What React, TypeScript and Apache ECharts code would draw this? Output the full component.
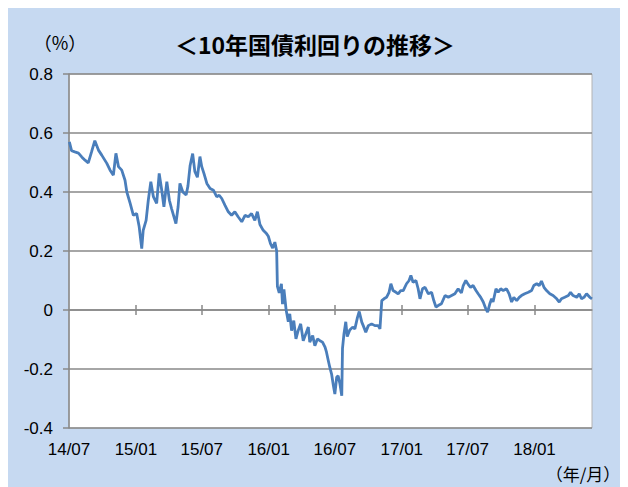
import React, { useEffect, useRef } from "react";
import * as echarts from "echarts";

// Days since 2014-07-01 and 10-year JGB yield (%)
const dayOffsets = [
  1, 7, 16, 26, 35, 44, 53, 62, 71, 81, 90, 104, 113, 122, 129, 136, 145, 154, 159, 168,
  177, 186, 193, 200, 204, 212, 218, 225, 232, 241, 248, 255, 261, 269, 276, 282, 294, 300, 305, 313,
  322, 327, 333, 340, 346, 353, 360, 365, 371, 379, 388, 397, 406, 413, 420, 429, 438, 447, 456, 465,
  475, 484, 493, 502, 511, 518, 525, 534, 543, 548, 554, 560, 566, 571, 573, 578, 584, 587, 591, 597,
  603, 607, 612, 618, 624, 630, 637, 644, 651, 658, 662, 670, 676, 683, 690, 697, 704, 708, 713, 717,
  722, 727, 731, 736, 740, 745, 750, 752, 756, 761, 765, 772, 780, 786, 793, 798, 805, 809, 816, 823,
  832, 841, 850, 855, 860, 866, 873, 880, 885, 891, 899, 905, 912, 919, 928, 935, 940, 946, 954, 960,
  965, 972, 979, 988, 997, 1003, 1009, 1015, 1024, 1034, 1043, 1052, 1061, 1070, 1079, 1084, 1091, 1098, 1104, 1111,
  1119, 1125, 1132, 1139, 1146, 1151, 1157, 1162, 1166, 1174, 1180, 1187, 1194, 1203, 1210, 1217, 1223, 1231, 1238, 1244,
  1253, 1263, 1272, 1278, 1286, 1293, 1299, 1306, 1313, 1322, 1331, 1341, 1348, 1354, 1363, 1373, 1379, 1386, 1396, 1403,
  1409, 1416, 1423, 1432, 1438,
];

const yields = [
  0.57, 0.54, 0.536, 0.532, 0.519, 0.508, 0.499, 0.536, 0.574, 0.542, 0.525, 0.497, 0.474, 0.457, 0.531, 0.486, 0.474, 0.44, 0.4, 0.362,
  0.321, 0.327, 0.282, 0.208, 0.27, 0.304, 0.372, 0.435, 0.384, 0.361, 0.463, 0.406, 0.35, 0.435, 0.372, 0.344, 0.293, 0.35, 0.429, 0.4,
  0.39, 0.42, 0.49, 0.53, 0.47, 0.45, 0.52, 0.486, 0.463, 0.429, 0.412, 0.406, 0.384, 0.389, 0.378, 0.355, 0.333, 0.321, 0.333, 0.316,
  0.299, 0.321, 0.316, 0.327, 0.304, 0.333, 0.29, 0.27, 0.259, 0.25, 0.225, 0.21, 0.23, 0.2, 0.08, 0.058, 0.089, 0.02, 0.07, 0.0,
  -0.04, -0.013, -0.07, -0.036, -0.098, -0.07, -0.047, -0.104, -0.081, -0.058, -0.109, -0.087, -0.121, -0.098, -0.104, -0.109, -0.126, -0.143, -0.172, -0.194,
  -0.217, -0.257, -0.285, -0.228, -0.223, -0.251, -0.291, -0.13, -0.081, -0.04, -0.09, -0.068, -0.058, -0.064, -0.026, -0.005, -0.041, -0.053, -0.075, -0.053,
  -0.047, -0.053, -0.053, -0.064, 0.032, 0.038, 0.043, 0.06, 0.089, 0.066, 0.06, 0.055, 0.066, 0.066, 0.089, 0.1, 0.117, 0.094, 0.1, 0.072,
  0.038, 0.072, 0.077, 0.055, 0.06, 0.032, 0.01, 0.015, 0.021, 0.049, 0.043, 0.049, 0.055, 0.072, 0.058, 0.083, 0.1, 0.086, 0.077, 0.083,
  0.066, 0.055, 0.043, 0.027, 0.004, -0.007, 0.021, 0.038, 0.027, 0.072, 0.06, 0.072, 0.066, 0.072, 0.055, 0.027, 0.043, 0.032, 0.043, 0.049,
  0.055, 0.06, 0.066, 0.083, 0.089, 0.083, 0.098, 0.077, 0.066, 0.055, 0.049, 0.038, 0.027, 0.038, 0.043, 0.049, 0.06, 0.049, 0.043, 0.055,
  0.038, 0.043, 0.055, 0.043, 0.038,
];

const xTickLabels = ["14/07", "15/01", "15/07", "16/01", "16/07", "17/01", "17/07", "18/01"];
const axisEndDay = 1438;

const DAY = 86400000;
const START = Date.UTC(2014, 6, 1);

function labelToDay(label: string): number {
  const [yy, mm] = label.split("/");
  return Math.round((Date.UTC(2000 + Number(yy), Number(mm) - 1, 1) - START) / DAY);
}

export default function App() {
  const ref = useRef<HTMLDivElement>(null);

  useEffect(() => {
    if (!ref.current) return;
    const chart = echarts.init(ref.current, null, { renderer: "svg" });
    const labelDays = xTickLabels.map(labelToDay);
    const tickDays = labelDays.slice(1);
    const data = dayOffsets.map((d, i) => [d, yields[i]]);
    const gray = "#898989";
    const fmt = (v: number) => {
      const idx = labelDays.indexOf(Math.round(v));
      return idx >= 0 ? xTickLabels[idx] : "";
    };
    const baseX = {
      type: "value",
      min: 0,
      max: axisEndDay,
      gridIndex: 0,
      splitLine: { show: false },
    };
    chart.setOption({
      animation: false,
      backgroundColor: "#c6d9f1",
      grid: {
        left: 61,
        top: 66,
        right: 36,
        bottom: 59,
        show: true,
        backgroundColor: "#ffffff",
        borderColor: "#b4b4b4",
        borderWidth: 1,
      },
      graphic: [
        {
          type: "text",
          x: 307,
          y: 36,
          style: {
            text: "＜10年国債利回りの推移＞",
            font: 'bold 23px "Noto Sans CJK JP"',
            fill: "#000",
            textAlign: "center",
            textVerticalAlign: "middle",
          },
        },
        {
          type: "text",
          x: 52,
          y: 34,
          style: {
            text: "（%）",
            font: '18px "Noto Sans CJK JP"',
            fill: "#000",
            textAlign: "center",
            textVerticalAlign: "middle",
          },
        },
        {
          type: "text",
          x: 575,
          y: 465,
          style: {
            text: "（年/月）",
            font: '17px "Noto Sans CJK JP"',
            fill: "#000",
            textAlign: "center",
            textVerticalAlign: "middle",
          },
        },
      ],
      xAxis: [
        {
          ...baseX,
          position: "bottom",
          axisLine: { show: false, onZero: false },
          axisTick: { show: false },
          axisLabel: {
            customValues: labelDays,
            formatter: fmt,
            fontFamily: '"Liberation Sans", Arial',
            fontSize: 17,
            color: "#000",
            margin: 13,
            hideOverlap: false,
          },
        },
        {
          ...baseX,
          axisLine: { show: true, onZero: true, onZeroAxisIndex: 0, lineStyle: { color: gray, width: 1.5 } },
          axisTick: { show: true, customValues: tickDays, length: 5, inside: false, lineStyle: { color: gray, width: 1.5 } },
          axisLabel: { show: false },
        },
        {
          ...baseX,
          axisLine: { show: false, onZero: true, onZeroAxisIndex: 0 },
          axisTick: { show: true, customValues: tickDays, length: 5, inside: true, lineStyle: { color: gray, width: 1.5 } },
          axisLabel: { show: false },
        },
      ],
      yAxis: {
        type: "value",
        min: -0.4,
        max: 0.8,
        interval: 0.2,
        axisLine: { show: true, lineStyle: { color: gray, width: 1.5 } },
        axisTick: { show: true, length: 6, lineStyle: { color: gray, width: 1.5 } },
        splitLine: { show: true, lineStyle: { color: gray, width: 1.5 } },
        axisLabel: {
          formatter: (v: number) => String(Math.round(v * 10) / 10),
          fontFamily: '"Liberation Sans", Arial',
          fontSize: 17,
          color: "#000",
          margin: 16,
        },
      },
      series: [
        {
          type: "line",
          xAxisIndex: 0,
          data,
          showSymbol: false,
          symbol: "none",
          lineStyle: { color: "#4a7ebb", width: 2.8 },
          z: 5,
        },
      ],
    });
    return () => chart.dispose();
  }, []);

  return <div ref={ref} style={{ width: 620, height: 479 }} />;
}
